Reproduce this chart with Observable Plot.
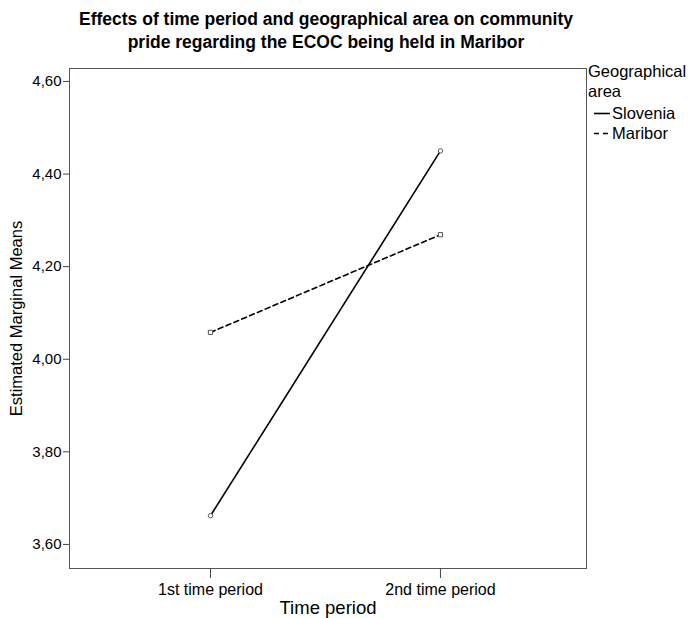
<!DOCTYPE html>
<html><head><meta charset="utf-8">
<script src="https://cdn.jsdelivr.net/npm/d3@7"></script>
<script src="https://cdn.jsdelivr.net/npm/@observablehq/plot@0.6"></script>
<style>
body{margin:0;background:#fff;font-family:"Liberation Sans",Arial,sans-serif;}
#wrap{position:relative;width:690px;height:618px;overflow:hidden}
#title{height:60px;width:652px;box-sizing:border-box;padding-top:8px;text-align:center;font-weight:bold;font-size:17.5px;line-height:23px;color:#000}
#legend{position:absolute;left:588px;top:61px;font-size:16.5px;color:#000;line-height:20px}
.row{display:flex;align-items:center;height:20px;margin-left:6px}
.row.first{margin-top:2px}
.row svg{margin-right:1px}
</style></head><body>
<div id="wrap">
<div id="title">Effects of time period and geographical area on community<br>pride regarding the ECOC being held in Maribor</div>
<div id="chart"></div>
<div id="legend"></div>
</div>
<script>
const periods = ["1st time period", "2nd time period"];
const areas = ["Slovenia", "Maribor"];
const slovenia = [3.662, 4.45];
const maribor = [4.058, 4.269];
const yTicks = [3.6, 3.8, 4.0, 4.2, 4.4, 4.6];

const data = [];
periods.forEach((p, i) => {
  data.push({area: "Slovenia", t: i + 1, v: slovenia[i]});
  data.push({area: "Maribor", t: i + 1, v: maribor[i]});
});
const sData = data.filter(d => d.area === "Slovenia");
const mData = data.filter(d => d.area === "Maribor");

const fmt = d => d.toFixed(2).replace(".", ",");

const plot = Plot.plot({
  width: 690,
  height: 558,
  marginTop: 8,
  marginBottom: 50,
  marginLeft: 69,
  marginRight: 104,
  style: {fontFamily: "'Liberation Sans', Arial, sans-serif", fontSize: "15px", color: "#000", background: "#fff"},
  x: {type: "linear", domain: [0.387, 2.635]},
  y: {domain: [3.548, 4.628]},
  marks: [
    Plot.frame({stroke: "#555", strokeWidth: 1}),
    Plot.axisY({ticks: yTicks, tickFormat: fmt, tickSize: 6, tickPadding: 2, label: null, stroke: "#444", fontSize: 15}),
    Plot.axisX({ticks: [1, 2], tickFormat: d => periods[d - 1], tickSize: 10, tickPadding: 5, label: null, stroke: "#444", fontSize: 16}),
    Plot.text(["Time period"], {frameAnchor: "bottom", dy: 45, fontSize: 18.5, fill: "#000"}),
    Plot.text(["Estimated Marginal Means"], {frameAnchor: "left", dx: -53, rotate: -90, textAnchor: "middle", fontSize: 16.5, fill: "#000"}),
    Plot.line(sData, {x: "t", y: "v", stroke: "#000", strokeWidth: 1.6}),
    Plot.line(mData, {x: "t", y: "v", stroke: "#000", strokeWidth: 1.6, strokeDasharray: "5,3.5"}),
    Plot.dot(sData, {x: "t", y: "v", symbol: "circle", r: 2.2, stroke: "#555", fill: "#fff", strokeWidth: 1}),
    Plot.dot(mData, {x: "t", y: "v", symbol: "square", r: 2.4, stroke: "#555", fill: "#fff", strokeWidth: 1})
  ]
});
document.getElementById("chart").appendChild(plot);

const legend = document.getElementById("legend");
legend.innerHTML = `<div>Geographical<br>area</div>` +
  areas.map((a, i) => `<div class="row${i === 0 ? " first" : ""}"><svg width="17" height="20"><line x1="0" x2="16" y1="10.5" y2="10.5" stroke="#000" stroke-width="1.6" ${a === "Maribor" ? 'stroke-dasharray="5,4"' : ''}/></svg><span>${a}</span></div>`).join("");
</script>
</body></html>
